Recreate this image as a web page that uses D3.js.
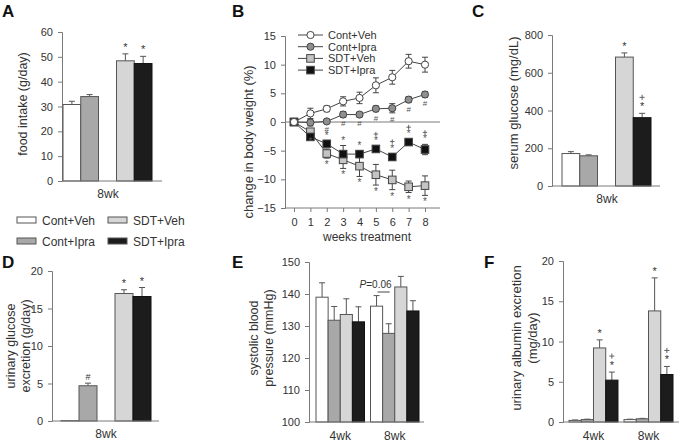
<!DOCTYPE html>
<html><head><meta charset="utf-8">
<script src="https://cdn.jsdelivr.net/npm/d3@7"></script>
<style>body{margin:0;background:#fff}svg{display:block;font-family:"Liberation Sans",Arial,sans-serif}</style>
</head><body>
<svg id="c" width="679" height="444"></svg>
<script>
// ---------- data ----------
const groups = ["Cont+Veh", "Cont+Ipra", "SDT+Veh", "SDT+Ipra"];
// A: food intake (g/day) 8wk
const foodMean = [30.8, 34.0, 48.4, 47.3];
const foodErr = [1.3, 0.8, 2.8, 2.9];
const foodMarks = ["", "", "*", "*"];
const foodTicks = [0, 10, 20, 30, 40, 50, 60];
// C: serum glucose (mg/dL) 8wk
const glucMean = [172, 160, 683, 362];
const glucErr = [10, 5, 22, 23];
const glucMarks = ["", "", "*", "*+"];
const glucTicks = [0, 200, 400, 600, 800];
// D: urinary glucose excretion (g/day) 8wk
const ugMean = [0.05, 4.7, 17.0, 16.6];
const ugErr = [0, 0.35, 0.5, 1.2];
const ugMarks = ["", "#", "*", "*"];
const ugTicks = [0, 5, 10, 15, 20];
// E: systolic BP (mmHg)
const timepoints = ["4wk", "8wk"];
const bp4 = [139.0, 131.8, 133.6, 131.3];
const bp4Err = [4.5, 4.3, 4.9, 4.7];
const bp8 = [136.2, 127.7, 142.2, 134.7];
const bp8Err = [3.3, 3.0, 3.3, 3.2];
const bpTicks = [100, 110, 120, 130, 140, 150];
// F: urinary albumin (mg/day)
const alb4 = [0.2, 0.3, 9.2, 5.2];
const alb4Err = [0.05, 0.05, 1.0, 1.0];
const alb8 = [0.3, 0.4, 13.8, 5.9];
const alb8Err = [0.05, 0.05, 4.1, 1.0];
const albMarks = ["", "", "*", "*+"];
const albTicks = [0, 5, 10, 15, 20];
// B: change in body weight (%)
const weeks = [0, 1, 2, 3, 4, 5, 6, 7, 8];
const bwContVeh = [0, 1.5, 2.3, 3.6, 4.2, 6.4, 7.8, 10.6, 10.0];
const bwContVehErr = [0, 0.9, 0.5, 0.8, 1.0, 1.3, 1.2, 1.2, 1.3];
const bwContIpra = [0, -0.1, 0.1, 1.3, 1.3, 2.3, 2.4, 3.9, 4.8];
const bwContIpraErr = [0, 0.6, 0.3, 0.5, 0.4, 0.5, 0.8, 0.5, 0.5];
const bwSdtVeh = [0, -1.7, -5.5, -6.6, -7.7, -9.2, -10.1, -11.3, -11.1];
const bwSdtVehErr = [0, 0.5, 0.8, 1.5, 1.8, 1.8, 1.7, 1.0, 1.7];
const bwSdtIpra = [0, -2.6, -3.8, -5.6, -5.6, -4.7, -6.1, -3.5, -4.8];
const bwSdtIpraErr = [0, 0.4, 0.5, 1.5, 0.6, 0.5, 0.6, 0.5, 0.9];
const bwTicks = [-15, -10, -5, 0, 5, 10, 15];
const hashWeeks = [2, 3, 4, 5, 6, 7, 8];      // Cont+Ipra vs Cont+Veh
const starVehWeeks = [1, 2, 3, 4, 5, 6, 7, 8];
const starIpraWeeks = [2, 3, 4, 5, 6, 7, 8];
const plusIpraWeeks = [5, 6, 7, 8];

// ---------- style ----------
const fills = ["#ffffff", "#a8a8a8", "#d6d6d6", "#1c1c1c"];
const AX = "#7a7a7a", TXT = "#333", OUT = "#555";
const svg = d3.select("#c");

function yAxis(g, y, x0, ticks, fmt) {
  const a = g.append("g").attr("transform", `translate(${x0},0)`)
    .call(d3.axisLeft(y).tickValues(ticks).tickSize(4).tickPadding(5).tickFormat(fmt || d3.format("d")));
  a.select(".domain").attr("stroke", AX);
  a.selectAll(".tick line").attr("stroke", AX);
  a.selectAll("text").attr("fill", TXT).style("font-size", "11px");
  return a;
}
function hLine(x1, x2, y) {
  svg.append("line").attr("x1", x1).attr("x2", x2).attr("y1", y).attr("y2", y).attr("stroke", AX);
}
function plusMark(g, cx, cy, s) {
  g.append("path").attr("d", `M${cx - s},${cy}H${cx + s}M${cx},${cy - s}V${cy + s}`)
    .attr("stroke", "#555").attr("stroke-width", 0.9).attr("fill", "none");
}
function letter(t, x, y) {
  svg.append("text").text(t).attr("x", x).attr("y", y).style("font-size", "17px").style("font-weight", "bold").attr("fill", "#111");
}
function yTitle(lines, x, y, size) {
  const t = svg.append("text").attr("transform", `translate(${x},${y}) rotate(-90)`)
    .attr("text-anchor", "middle").attr("fill", TXT).style("font-size", (size || 13) + "px");
  lines.forEach((l, i) => t.append("tspan").attr("x", 0).attr("dy", i === 0 ? 0 : "1.2em").text(l));
}
function label(t, x, y, size) {
  svg.append("text").text(t).attr("x", x).attr("y", y).attr("text-anchor", "middle")
    .attr("fill", TXT).style("font-size", (size || 12) + "px");
}
function bars(xPos, w, y, means, errs, marks, base) {
  const g = svg.append("g");
  means.forEach((m, i) => {
    const x = xPos(i);
    const top = y(m), et = y(m + errs[i]);
    if (errs[i] > 0) {
      g.append("line").attr("x1", x + w / 2).attr("x2", x + w / 2).attr("y1", top).attr("y2", et).attr("stroke", OUT);
      g.append("line").attr("x1", x + w / 2 - 3).attr("x2", x + w / 2 + 3).attr("y1", et).attr("y2", et).attr("stroke", OUT);
    }
    g.append("rect").attr("x", x).attr("y", top).attr("width", w).attr("height", Math.max(0, y(base) - top))
      .attr("fill", fills[i]).attr("stroke", i === 3 ? "#111" : OUT).attr("stroke-width", 1);
    const mk = marks ? marks[i] : "";
    if (mk) {
      mk.split("").forEach((s, k) => {
        const by = et - 3 - k * 9;
        if (s === "+") plusMark(g, x + w / 2, by - 4, 2.6);
        else g.append("text").text(s).attr("x", x + w / 2).attr("y", by)
          .attr("text-anchor", "middle").attr("fill", TXT).style("font-size", s === "#" ? "9px" : "11px");
      });
    }
  });
}
function pairedX(x0, x1, gap) {
  const outer = d3.scaleBand().domain(["Cont", "SDT"]).range([x0, x1]);
  const step = ((x1 - x0) + gap) / 2;
  outer.paddingInner(gap / step).paddingOuter(0);
  const inner = d3.scaleBand().domain([0, 1]).range([0, outer.bandwidth()]);
  return { f: i => outer(i < 2 ? "Cont" : "SDT") + inner(i % 2), w: inner.bandwidth() };
}

// ---------- Panel A ----------
letter("A", 2, 17);
{
  const y = d3.scaleLinear().domain([0, 60]).range([181, 32]);
  const px = pairedX(63, 152, 18);
  yAxis(svg, y, 62, foodTicks);
  bars(px.f, px.w, y, foodMean, foodErr, foodMarks, 0);
  hLine(62, 162, 181);
  label("8wk", 108, 198);
  yTitle(["food intake (g/day)"], 27, 104, 12.5);
}
// legend
{
  const lg = svg.append("g");
  const pos = [[17, 220], [17, 241], [108, 220], [108, 241]];
  groups.forEach((gname, i) => {
    lg.append("rect").attr("x", pos[i][0]).attr("y", pos[i][1] - 3).attr("width", 19).attr("height", 6)
      .attr("fill", fills[i]).attr("stroke", OUT);
    lg.append("text").text(gname).attr("x", pos[i][0] + 25).attr("y", pos[i][1] + 4.5)
      .attr("fill", TXT).style("font-size", "12px");
  });
}

// ---------- Panel B ----------
letter("B", 232, 17);
{
  const x = d3.scaleLinear().domain([0, 8]).range([294, 425]);
  const y = d3.scaleLinear().domain([-15, 15]).range([208, 36]);
  yAxis(svg, y, 285, bwTicks);
  const xa = svg.append("g").attr("transform", "translate(0,208)")
    .call(d3.axisBottom(x).tickValues(weeks).tickSize(4).tickPadding(6).tickSizeOuter(0));
  xa.select(".domain").remove();
  xa.selectAll(".tick line").attr("stroke", AX);
  xa.selectAll("text").attr("fill", TXT).style("font-size", "11px");
  hLine(285, 440, 208);
  hLine(285, 440, y(0));
  label("weeks treatment", 367, 241, 12);
  yTitle(["change in body weight (%)"], 253, 142);

  const series = [
    { name: groups[0], v: bwContVeh, e: bwContVehErr, fill: "#ffffff", shape: "c" },
    { name: groups[1], v: bwContIpra, e: bwContIpraErr, fill: "#8f8f8f", shape: "c" },
    { name: groups[2], v: bwSdtVeh, e: bwSdtVehErr, fill: "#c4c4c4", shape: "s" },
    { name: groups[3], v: bwSdtIpra, e: bwSdtIpraErr, fill: "#111111", shape: "s" }
  ];
  const line = d3.line().x((d, i) => x(weeks[i])).y(d => y(d));
  const drawMarker = (g, s, cx, cy) => {
    if (s.shape === "c") g.append("circle").attr("cx", cx).attr("cy", cy).attr("r", 3.6).attr("fill", s.fill).attr("stroke", "#444");
    else g.append("rect").attr("x", cx - 3.8).attr("y", cy - 3.8).attr("width", 7.6).attr("height", 7.6).attr("fill", s.fill).attr("stroke", "#444");
  };
  series.forEach(s => {
    const g = svg.append("g");
    s.v.forEach((v, i) => {
      if (s.e[i] > 0) {
        const cx = x(weeks[i]);
        g.append("line").attr("x1", cx).attr("x2", cx).attr("y1", y(v - s.e[i])).attr("y2", y(v + s.e[i])).attr("stroke", "#444");
        [v - s.e[i], v + s.e[i]].forEach(t => g.append("line").attr("x1", cx - 3).attr("x2", cx + 3).attr("y1", y(t)).attr("y2", y(t)).attr("stroke", "#444"));
      }
    });
    g.append("path").datum(s.v).attr("d", line).attr("fill", "none").attr("stroke", "#444");
  });
  [2, 3, 1, 0].forEach(k => {
    const s = series[k];
    s.v.forEach((v, i) => drawMarker(svg, s, x(weeks[i]), y(v)));
  });
  // significance symbols
  const sym = (t, cx, cy, size) => svg.append("text").text(t).attr("x", cx).attr("y", cy).attr("text-anchor", "middle")
    .attr("fill", "#555").style("font-size", size + "px");
  hashWeeks.forEach(w => sym("#", x(w), y(bwContIpra[w] - bwContIpraErr[w]) + 9, 8));
  starVehWeeks.forEach(w => sym("*", x(w), y(bwSdtVeh[w] - bwSdtVehErr[w]) + 10, 10));
  starIpraWeeks.forEach(w => sym("*", x(w), y(bwSdtIpra[w] + bwSdtIpraErr[w]) - 2, 10));
  plusIpraWeeks.forEach(w => plusMark(svg, x(w), y(bwSdtIpra[w] + bwSdtIpraErr[w]) - 12, 2.2));
  // legend
  series.forEach((s, i) => {
    const ly = 35 + i * 11.7;
    svg.append("line").attr("x1", 298).attr("x2", 323).attr("y1", ly).attr("y2", ly).attr("stroke", "#444");
    drawMarker(svg, s, 310.5, ly);
    svg.append("text").text(s.name).attr("x", 328).attr("y", ly + 4).attr("fill", TXT).style("font-size", "11px");
  });
}

// ---------- Panel C ----------
letter("C", 472, 17);
{
  const y = d3.scaleLinear().domain([0, 800]).range([186, 35]);
  const px = pairedX(562, 651, 18);
  yAxis(svg, y, 552, glucTicks);
  bars(px.f, px.w, y, glucMean, glucErr, glucMarks, 0);
  hLine(552, 660, 186);
  label("8wk", 607, 203);
  yTitle(["serum glucose (mg/dL)"], 518, 103);
}

// ---------- Panel D ----------
letter("D", 2, 268);
{
  const y = d3.scaleLinear().domain([0, 20]).range([421, 271]);
  const px = pairedX(61, 151, 18);
  yAxis(svg, y, 52, ugTicks);
  bars(px.f, px.w, y, ugMean, ugErr, ugMarks, 0);
  hLine(52, 159, 421);
  label("8wk", 106, 438);
  yTitle(["urinary glucose", "excretion (g/day)"], 15, 346, 12.5);
}

// ---------- Panel E ----------
letter("E", 232, 268);
{
  const y = d3.scaleLinear().domain([100, 150]).range([422, 262]);
  const outer = d3.scaleBand().domain(timepoints).range([316, 419]).paddingInner(0.11);
  const inner = d3.scaleBand().domain(d3.range(4)).range([0, outer.bandwidth()]);
  yAxis(svg, y, 309, bpTicks);
  [[bp4, bp4Err], [bp8, bp8Err]].forEach((d, k) => {
    bars(i => outer(timepoints[k]) + inner(i), inner.bandwidth(), y, d[0], d[1], null, 100);
  });
  hLine(309, 424, 422);
  timepoints.forEach(t => label(t, outer(t) + outer.bandwidth() / 2, 440));
  const px1 = outer("8wk") + inner.bandwidth() / 2, px2 = outer("8wk") + inner(1) + inner.bandwidth() / 2;
  const pt = svg.append("text").attr("x", px1 - 1).attr("y", 288).attr("text-anchor", "middle")
    .attr("fill", TXT).style("font-size", "10px");
  pt.append("tspan").text("P").style("font-style", "italic");
  pt.append("tspan").text("=0.06");
  svg.append("line").attr("x1", px1 + 1).attr("x2", px2 + 1).attr("y1", 292).attr("y2", 292).attr("stroke", "#444");
  yTitle(["systolic blood", "pressure (mmHg)"], 258, 338, 12.5);
}

// ---------- Panel F ----------
letter("F", 484, 268);
{
  const y = d3.scaleLinear().domain([0, 20]).range([422, 261]);
  const outer = d3.scaleBand().domain(timepoints).range([569, 673]).paddingInner(0.11);
  const inner = d3.scaleBand().domain(d3.range(4)).range([0, outer.bandwidth()]);
  yAxis(svg, y, 563, albTicks);
  [[alb4, alb4Err], [alb8, alb8Err]].forEach((d, k) => {
    bars(i => outer(timepoints[k]) + inner(i), inner.bandwidth(), y, d[0], d[1], albMarks, 0);
  });
  hLine(563, 679, 422);
  timepoints.forEach(t => label(t, outer(t) + outer.bandwidth() / 2, 440));
  yTitle(["urinary albumin excretion", "(mg/day)"], 521, 338);
}
</script>
</body></html>
